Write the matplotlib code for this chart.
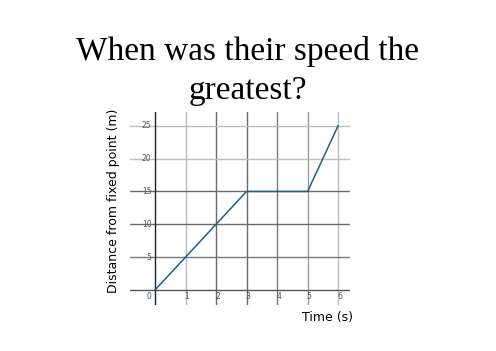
import matplotlib.pyplot as plt

# distance-time data
time = [0, 1, 2, 3, 4, 5, 6]
distance = [0, 5, 10, 15, 15, 15, 25]
x_ticks = [0, 1, 2, 3, 4, 5, 6]
y_ticks = [5, 10, 15, 20, 25]

fig = plt.figure(figsize=(4.96, 3.51), dpi=100)
fig.text(0.5, 1 - 71/351, "When was their speed the\ngreatest?", ha='center', va='center',
         fontsize=24, family='Liberation Serif', linespacing=1.35)

ax = fig.add_axes([130/496, 46/351, 220/496, 193/351])
xmin, xmax = -0.82, 6.39
ymin, ymax = -2.29, 27.1
ax.set_xlim(xmin, xmax)
ax.set_ylim(ymin, ymax)
ax.axis('off')

# grid lines (some lighter than others, as in the original)
vcol = {1: '#bdbdbd', 2: '#6a6a6a', 3: '#6a6a6a', 4: '#7a7a7a', 5: '#9a9a9a', 6: '#bdbdbd'}
hcol = {5: '#7a7a7a', 10: '#6a6a6a', 15: '#6a6a6a', 20: '#bdbdbd', 25: '#bdbdbd'}
for x in x_ticks[1:]:
    ax.plot([x, x], [ymin, ymax], color=vcol[x], lw=1.0, zorder=1)
    ax.text(x + 0.05, -1.0, str(x), fontsize=5.5, color='#555555', ha='center', va='center')
for y in y_ticks:
    ax.plot([xmin, xmax], [y, y], color=hcol[y], lw=1.0, zorder=1)
    ax.text(-0.12, y, str(y), fontsize=5.5, color='#555555', ha='right', va='center')
ax.plot([xmin, xmax], [0, 0], color='#555555', lw=1.0, zorder=2)
ax.plot([0, 0], [ymin, ymax], color='#222222', lw=1.0, zorder=2)
ax.text(-0.12, -1.0, '0', fontsize=5.5, color='#555555', ha='right', va='center')

ax.plot(time, distance, color='#1f5f8b', lw=1.1, zorder=3)

fig.text(113/496, 1 - 201/351, 'Distance from fixed point (m)', rotation=90,
         ha='center', va='center', fontsize=9)
fig.text(328/496, 1 - 318/351, 'Time (s)', ha='center', va='center', fontsize=9)

fig.savefig('out.png', dpi=100)
